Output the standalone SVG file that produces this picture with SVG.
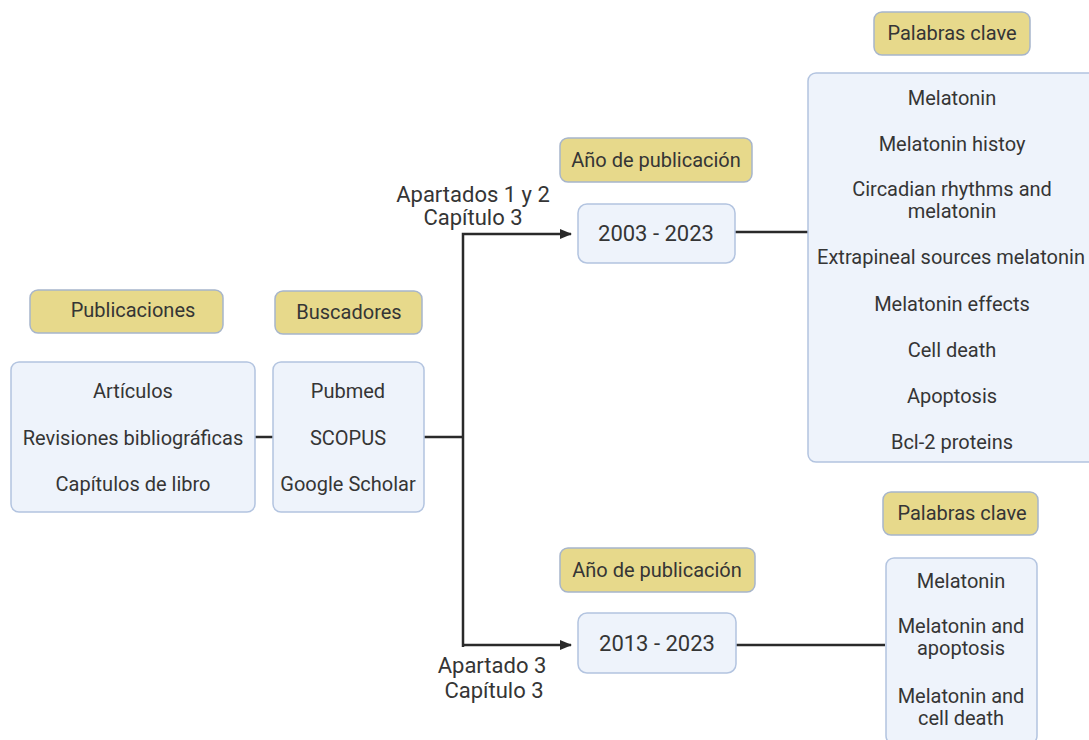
<svg xmlns="http://www.w3.org/2000/svg" width="1089" height="740" viewBox="0 0 1089 740">
<style>
.lbl{fill:#e7d98b;stroke:#a7b5cb;stroke-width:1.5}
.box{fill:#eef3fb;stroke:#b3c4e0;stroke-width:1.5}
text{font-family:Roboto,"Liberation Sans",sans-serif;fill:#353535;text-anchor:middle}
.t{font-size:20px}
.y{font-size:22px}
.c{fill:none;stroke:#2a2a2a;stroke-width:2.5}
</style>
<defs>
<marker id="ah" markerWidth="12" markerHeight="10" refX="11" refY="5" orient="auto" markerUnits="userSpaceOnUse">
<path d="M0,0 L12,5 L0,10 Z" fill="#2a2a2a"/>
</marker>
</defs>
<rect width="1089" height="740" fill="#ffffff"/>
<g id="connectors">
<line class="c" x1="255" y1="437" x2="273" y2="437"/>
<line class="c" x1="424" y1="437" x2="463" y2="437"/>
<path class="c" d="M463,647 V234 H571" marker-end="url(#ah)"/>
<path class="c" d="M463,645 H571" marker-end="url(#ah)"/>
<line class="c" x1="735" y1="232" x2="808" y2="232"/>
<line class="c" x1="736" y1="645" x2="885" y2="645"/>
</g>
<g id="publicaciones">
<rect class="lbl" x="30" y="290" width="193" height="43" rx="8"/>
<text class="t" x="133" y="317">Publicaciones</text>
</g>
<g id="buscadores">
<rect class="lbl" x="275" y="291" width="147" height="43" rx="8"/>
<text class="t" x="349" y="319">Buscadores</text>
</g>
<g id="tipos">
<rect class="box" x="11" y="362" width="244" height="150" rx="8"/>
<text class="t" x="133" y="398">Artículos</text>
<text class="t" x="133" y="445">Revisiones bibliográficas</text>
<text class="t" x="133" y="491">Capítulos de libro</text>
</g>
<g id="motores">
<rect class="box" x="273" y="362" width="151" height="150" rx="8"/>
<text class="t" x="348" y="398">Pubmed</text>
<text class="t" x="348" y="445">SCOPUS</text>
<text class="t" x="348" y="491">Google Scholar</text>
</g>
<g id="label-top">
<text class="y" x="473" y="202">Apartados 1 y 2</text>
<text class="y" x="473" y="225">Capítulo 3</text>
</g>
<g id="label-bottom">
<text class="y" x="492" y="673">Apartado 3</text>
<text class="y" x="494" y="698">Capítulo 3</text>
</g>
<g id="anio1">
<rect class="lbl" x="560" y="138" width="192" height="44" rx="8"/>
<text class="t" x="656" y="167">Año de publicación</text>
</g>
<g id="rango1">
<rect class="box" x="578" y="204" width="157" height="59" rx="9"/>
<text class="y" x="656" y="241">2003 - 2023</text>
</g>
<g id="anio2">
<rect class="lbl" x="560" y="548" width="195" height="44" rx="8"/>
<text class="t" x="657" y="577">Año de publicación</text>
</g>
<g id="rango2">
<rect class="box" x="578" y="613" width="158" height="60" rx="9"/>
<text class="y" x="657" y="651">2013 - 2023</text>
</g>
<g id="palabras1">
<rect class="lbl" x="874" y="12" width="156" height="43" rx="8"/>
<text class="t" x="952" y="40">Palabras clave</text>
</g>
<g id="claves1">
<rect class="box" x="808" y="73" width="290" height="389" rx="8"/>
<text class="t" x="952" y="105">Melatonin</text>
<text class="t" x="952" y="151">Melatonin histoy</text>
<text class="t" x="952" y="196">Circadian rhythms and</text>
<text class="t" x="952" y="218">melatonin</text>
<text class="t" x="951" y="264">Extrapineal sources melatonin</text>
<text class="t" x="952" y="311">Melatonin effects</text>
<text class="t" x="952" y="357">Cell death</text>
<text class="t" x="952" y="403">Apoptosis</text>
<text class="t" x="952" y="449">Bcl-2 proteins</text>
</g>
<g id="palabras2">
<rect class="lbl" x="883" y="492" width="155" height="43" rx="8"/>
<text class="t" x="962" y="520">Palabras clave</text>
</g>
<g id="claves2">
<rect class="box" x="886" y="558" width="151" height="186" rx="8"/>
<text class="t" x="961" y="588">Melatonin</text>
<text class="t" x="961" y="633">Melatonin and</text>
<text class="t" x="961" y="655">apoptosis</text>
<text class="t" x="961" y="703">Melatonin and</text>
<text class="t" x="961" y="725">cell death</text>
</g>
</svg>
